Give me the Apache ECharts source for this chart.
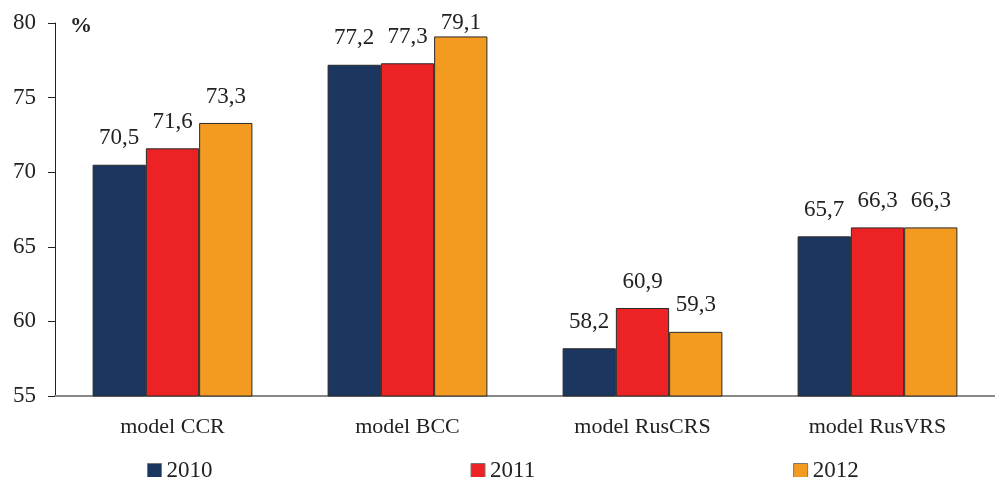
<!DOCTYPE html>
<html><head><meta charset="utf-8">
<script src="https://cdn.jsdelivr.net/npm/echarts@6/dist/echarts.min.js"></script>
<style>html,body{margin:0;padding:0;background:#fff}#c{width:995px;height:477px}</style>
</head><body><div id="c"></div>
<script>
const categories = ['model CCR', 'model BCC', 'model RusCRS', 'model RusVRS'];
const years = ['2010', '2011', '2012'];
const v2010 = [70.5, 77.2, 58.2, 65.7];
const v2011 = [71.6, 77.3, 60.9, 66.3];
const v2012 = [73.3, 79.1, 59.3, 66.3];
const yTicks = [55, 60, 65, 70, 75, 80];

const colors = ['#1b365f', '#ed2224', '#f39a21'];
const font = '"Liberation Serif", "Times New Roman", serif';
const yMax = yTicks[yTicks.length - 1];
const chart = echarts.init(document.getElementById('c'));
const mk = (name, data, i) => ({
  name, type: 'bar',
  // labels of bars that nearly touch the top are tucked right onto the bar
  data: data.map(v => (yMax - v < 1.5 ? { value: v, label: { distance: 2 } } : v)),
  itemStyle: { color: colors[i], borderColor: '#2a2a2a', borderWidth: 1 },
  barGap: '0%', barCategoryGap: '32%',
  label: { show: true, position: 'top', distance: 15, fontFamily: font, fontSize: 23, color: '#222',
    formatter: p => p.value.toFixed(1).replace('.', ',') }
});
chart.setOption({
  animation: false,
  textStyle: { fontFamily: font },
  title: { text: '%', left: 65, top: 10, textStyle: { fontFamily: font, fontSize: 22, fontWeight: 'bold', color: '#222' } },
  grid: { left: 55, right: 0, top: 23, bottom: 81 },
  legend: {
    top: 454, left: 142, itemWidth: 14, itemHeight: 14, itemGap: 258,
    icon: 'rect',
    textStyle: { fontFamily: font, fontSize: 23, color: '#222' },
    itemStyle: { borderColor: '#777', borderWidth: 1 },
    data: years
  },
  xAxis: {
    type: 'category', data: categories,
    axisLine: { lineStyle: { color: '#888', width: 2 } },
    axisTick: { show: false },
    axisLabel: { fontFamily: font, fontSize: 22, color: '#222', margin: 20 }
  },
  yAxis: {
    type: 'value', min: yTicks[0], max: yMax, interval: 5,
    axisLine: { show: true, lineStyle: { color: '#222', width: 1 } },
    axisTick: { show: true, length: 7, lineStyle: { color: '#222' } },
    splitLine: { show: false },
    axisLabel: { fontFamily: font, fontSize: 23, color: '#222', margin: 19 }
  },
  series: [mk(years[0], v2010, 0), mk(years[1], v2011, 1), mk(years[2], v2012, 2)]
});
</script></body></html>
